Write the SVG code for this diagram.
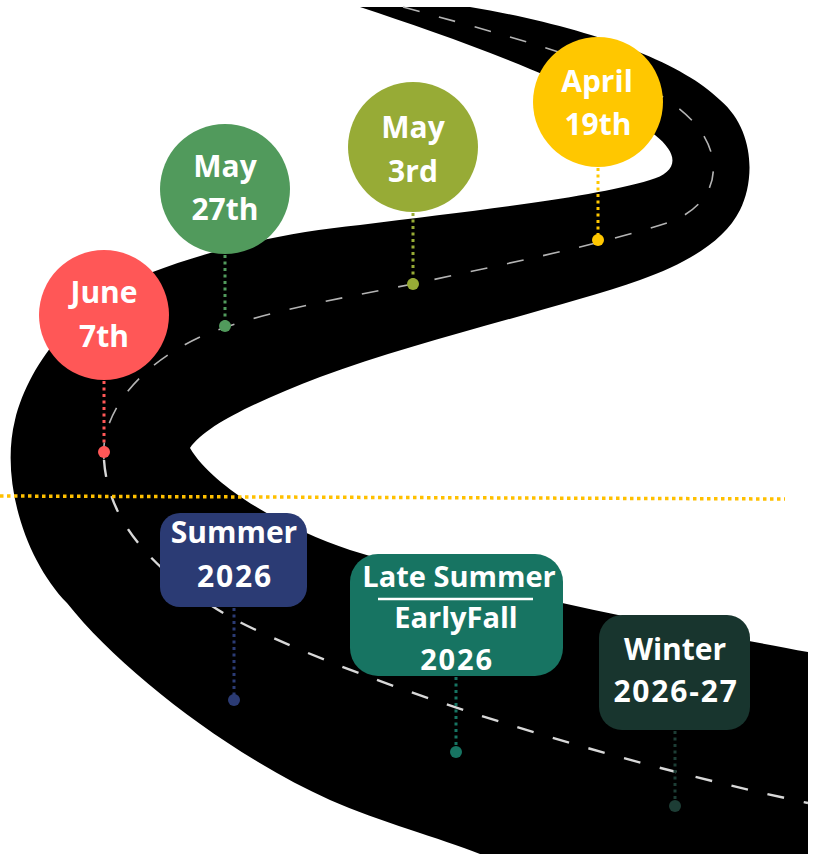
<svg xmlns="http://www.w3.org/2000/svg" width="817" height="854" viewBox="0 0 817 854">
  <style>
    .lbl { font-family: "Open Sans", "Liberation Sans", sans-serif; font-weight: 700; fill: #ffffff; text-anchor: middle; }
    .c30 { font-size: 30px; }
    .c29 { font-size: 29px; }
    .num { letter-spacing: 1.8px; }
    .conn { fill: none; stroke-width: 3; stroke-dasharray: 3 3.5; }
    .lane { fill: none; stroke-dasharray: 17 20; }
  </style>
  <rect width="817" height="854" fill="#ffffff"/>
  <g id="road">
    <path d="M 360 7 C 460 40, 600 90, 655 135 C 680 155, 678 172, 650 180 C 590 198, 480 210, 360 225 C 280 233, 210 250, 150 273 C 80 300, 30 360, 15 420 C 0 480, 25 560, 67 603 C 120 670, 230 755, 330 800 C 380 822, 440 838, 480 854 L 808 854 L 808 652 C 700 632, 480 590, 350 550 C 290 530, 215 490, 190 448 C 205 425, 260 400, 320 377 C 420 340, 560 308, 640 280 C 690 262, 725 240, 740 210 C 755 180, 755 130, 720 100 C 680 60, 580 25, 470 7 Z" fill="#000000"/>
    <path class="lane" d="M 403 7 C 540 45, 660 75, 700 130 C 725 165, 715 205, 670 222 C 600 245, 500 265, 413 284 C 330 300, 250 315, 200 337 C 130 370, 100 420, 104 460" stroke="#b4b4b4" stroke-width="1.6"/>
    <path class="lane" d="M 104 460 C 108 520, 150 570, 230 617 C 330 670, 560 750, 808 803" stroke="#d8d8d8" stroke-width="2.4"/>
  </g>
  <line id="divider" x1="0" y1="496" x2="785" y2="499" stroke="#ffc000" stroke-width="3.5" stroke-dasharray="3.5 3.5"/>
  <g id="connectors">
    <line class="conn" x1="598" y1="168" x2="598" y2="236" stroke="#ffc700"/>
    <circle cx="598" cy="240" r="6" fill="#ffc700"/>
    <line class="conn" x1="413" y1="213" x2="413" y2="280" stroke="#97ab36"/>
    <circle cx="413" cy="284" r="6" fill="#97ab36"/>
    <line class="conn" x1="225" y1="255" x2="225" y2="322" stroke="#519a5c"/>
    <circle cx="225" cy="326" r="6" fill="#519a5c"/>
    <line class="conn" x1="104" y1="381" x2="104" y2="448" stroke="#ff5757"/>
    <circle cx="104" cy="452" r="6" fill="#ff5757"/>
    <line class="conn" x1="234" y1="608" x2="234" y2="696" stroke="#2b3b74" stroke-width="2.5"/>
    <circle cx="234" cy="700" r="6" fill="#2b3b74"/>
    <line class="conn" x1="456" y1="677" x2="456" y2="748" stroke="#177462" stroke-width="2.5"/>
    <circle cx="456" cy="752" r="6" fill="#177462"/>
    <line class="conn" x1="675" y1="731" x2="675" y2="802" stroke="#1d3d35" stroke-width="2.5"/>
    <circle cx="675" cy="806" r="6" fill="#1d3d35"/>
  </g>
  <g id="april">
    <circle cx="598" cy="102" r="65" fill="#ffc700"/>
    <text class="lbl c30" x="597" y="92">April</text>
    <text class="lbl c30" x="598" y="135">19th</text>
  </g>
  <g id="may3">
    <circle cx="413" cy="147" r="65" fill="#97ab36"/>
    <text class="lbl c30" x="413" y="138">May</text>
    <text class="lbl c30" x="413" y="182">3rd</text>
  </g>
  <g id="may27">
    <circle cx="225" cy="189" r="65" fill="#519a5c"/>
    <text class="lbl c30" x="225" y="177">May</text>
    <text class="lbl c30" x="225" y="220">27th</text>
  </g>
  <g id="june7">
    <circle cx="104" cy="315" r="65" fill="#ff5757"/>
    <text class="lbl c30" x="104" y="303">June</text>
    <text class="lbl c30" x="104" y="347">7th</text>
  </g>
  <g id="summer">
    <rect x="160" y="513" width="147" height="94" rx="20" fill="#2b3b74"/>
    <text class="lbl c30" x="234" y="543">Summer</text>
    <text class="lbl c30 num" x="235" y="587">2026</text>
  </g>
  <g id="latesummer">
    <rect x="350" y="554" width="213" height="122" rx="28" fill="#177462"/>
    <text class="lbl c29" x="459" y="587">Late Summer</text>
    <line x1="378" y1="599" x2="533" y2="599" stroke="#ffffff" stroke-width="2.5"/>
    <text class="lbl c29" x="456" y="628">EarlyFall</text>
    <text class="lbl c29 num" x="457" y="670">2026</text>
  </g>
  <g id="winter">
    <rect x="599" y="615" width="151" height="115" rx="23" fill="#18352e"/>
    <text class="lbl c30" x="675" y="660">Winter</text>
    <text class="lbl c30 num" x="676" y="702">2026-27</text>
  </g>
</svg>
